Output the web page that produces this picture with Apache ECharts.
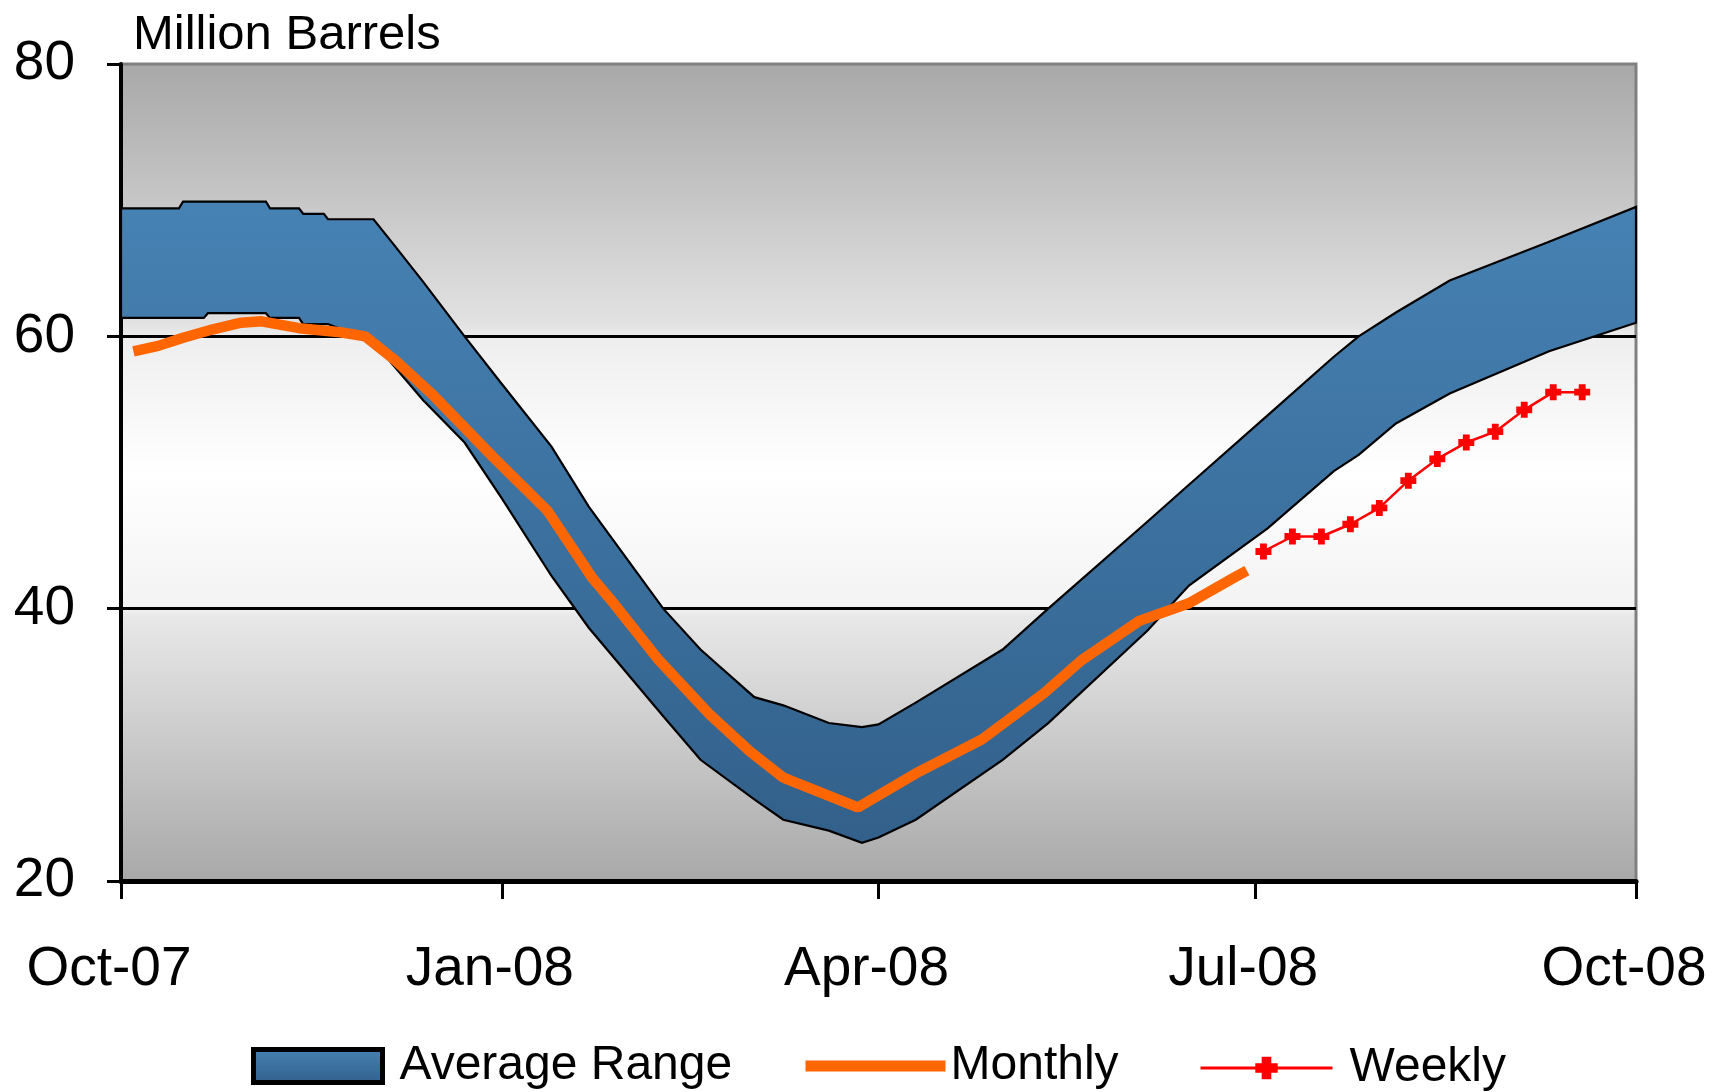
<!DOCTYPE html>
<html>
<head>
<meta charset="utf-8">
<script src="https://cdn.jsdelivr.net/npm/echarts@6/dist/echarts.min.js"></script>
<style>
html,body{margin:0;padding:0;background:#fff;}
#main{width:1725px;height:1092px;}
</style>
</head>
<body>
<div id="main"></div>
<script>
// ---- data ----
const bandDates = ['2007-10-01','2007-10-15','2007-10-16','2007-10-21','2007-10-22','2007-11-05','2007-11-06','2007-11-13','2007-11-14','2007-11-19','2007-11-20','2007-12-01','2007-12-06','2007-12-13','2007-12-23','2008-01-01','2008-01-13','2008-01-22','2008-02-09','2008-02-18','2008-03-02','2008-03-09','2008-03-20','2008-03-28','2008-04-01','2008-04-10','2008-05-01','2008-05-12','2008-06-05','2008-06-15','2008-07-04','2008-07-20','2008-07-26','2008-08-04','2008-08-17','2008-09-10','2008-10-01'];
const bandUpper = [69.4,69.4,69.9,69.9,69.9,69.9,69.4,69.4,69.0,69.0,68.6,68.6,66.7,64.0,60.0,56.5,51.9,47.5,40.0,37.0,33.5,32.9,31.6,31.3,31.5,33.1,37.0,40.0,46.4,49.1,54.2,58.5,60.0,61.75,64.1,66.95,69.5];
const bandLower = [61.35,61.35,61.35,61.35,61.7,61.7,61.35,61.35,60.9,60.9,60.9,59.6,57.8,55.3,52.2,48.1,42.4,38.6,32.1,28.9,26.0,24.5,23.7,22.8,23.2,24.5,28.9,31.6,38.4,41.7,45.9,50.1,51.3,53.6,55.8,58.9,61.0];

const monthlyDates = ['2007-10-04','2007-10-10','2007-10-16','2007-10-23','2007-10-30','2007-11-04','2007-11-13','2007-11-23','2007-11-29','2007-12-06','2007-12-15','2007-12-30','2008-01-12','2008-01-23','2008-01-28','2008-02-08','2008-02-20','2008-03-01','2008-03-09','2008-03-27','2008-04-10','2008-04-26','2008-05-11','2008-05-20','2008-06-03','2008-06-15','2008-06-26','2008-06-29'];
const monthlyValues = [58.9,59.3,59.9,60.5,61.0,61.1,60.6,60.3,60.0,58.3,55.8,51.1,47.2,42.2,40.4,36.2,32.3,29.5,27.6,25.4,27.9,30.4,33.8,36.2,39.1,40.4,42.3,42.8];

const weeklyDates = ['2008-07-03','2008-07-10','2008-07-17','2008-07-24','2008-07-31','2008-08-07','2008-08-14','2008-08-21','2008-08-28','2008-09-04','2008-09-11','2008-09-18'];
const weeklyValues = [44.2,45.3,45.3,46.2,47.4,49.4,51.0,52.2,53.0,54.6,55.9,55.9];

const xTickDates = ['2007-10-01','2008-01-01','2008-04-01','2008-07-01','2008-10-01'];
const xTickLabels = ['Oct-07','Jan-08','Apr-08','Jul-08','Oct-08'];
const yMin = 20, yMax = 80, yStep = 20;

const seriesNames = ['Average Range','Monthly','Weekly'];
const yTitle = 'Million Barrels';

// ---- helpers ----
function ts(s){ const p = s.split('-').map(Number); return Date.UTC(p[0], p[1]-1, p[2]); }
const xTickTs = xTickDates.map(ts);
const bandData = bandDates.map((d,i)=>[ts(d), bandLower[i], bandUpper[i]]);
const monthlyData = monthlyDates.map((d,i)=>[ts(d), monthlyValues[i]]);
const weeklyData = weeklyDates.map((d,i)=>[ts(d), weeklyValues[i]]);

const FONT = "'Liberation Sans', Arial, sans-serif";
const bandStops = [{offset:0,color:'#4682B4'},{offset:1,color:'#32608A'}];
const bandFill = {type:'linear',x:0,y:0,x2:0,y2:1,colorStops:bandStops};
const plusPath = 'path://M2,0H5V2H7V5H5V7H2V5H0V2H2Z';

function renderBand(params, api){
  if (params.dataIndex !== 0) return null;
  const n = bandData.length;
  const up = [], lo = [];
  for (let i = 0; i < n; i++){
    const x = api.value(0, i);
    up.push(api.coord([x, api.value(2, i)]));
    lo.push(api.coord([x, api.value(1, i)]));
  }
  const poly = up.concat(lo.slice().reverse());
  return {
    type:'group',
    children:[
      {type:'polygon', shape:{points:poly},
       style:{fill:new echarts.graphic.LinearGradient(0,0,0,1,bandStops), stroke:'#000', lineWidth:2.2}}
    ]
  };
}

const chart = echarts.init(document.getElementById('main'), null, {renderer:'canvas'});
chart.setOption({
  animation:false,
  backgroundColor:'#ffffff',
  title:{
    text: yTitle, left:128, top:6,
    textStyle:{fontFamily:FONT, fontSize:49, fontWeight:'normal', color:'#000'}
  },
  grid:{
    left:121, right:89, top:64, bottom:211,
    show:true,
    borderColor:'#808080', borderWidth:3,
    backgroundColor:{type:'linear',x:0,y:0,x2:0,y2:1,colorStops:[
      {offset:0,color:'#a8a8a8'},
      {offset:0.32,color:'#e2e2e2'},
      {offset:0.335,color:'#eeeeee'},
      {offset:0.5,color:'#ffffff'},
      {offset:0.665,color:'#f3f3f3'},
      {offset:0.675,color:'#e8e8e8'},
      {offset:1,color:'#a8a8a8'}
    ]}
  },
  xAxis:{
    type:'value',
    min: xTickTs[0], max: xTickTs[xTickTs.length-1],
    axisLine:{show:true, lineStyle:{color:'#000', width:5}},
    axisTick:{show:true, customValues: xTickTs, length:18, lineStyle:{color:'#000', width:3}},
    axisLabel:{
      customValues: xTickTs,
      margin:61,
      padding:[0,24,0,0],
      fontFamily:FONT, fontSize:55, color:'#000',
      formatter:function(v){ const i = xTickTs.indexOf(v); return i>=0 ? xTickLabels[i] : ''; }
    },
    splitLine:{show:false}
  },
  yAxis:{
    type:'value', min:yMin, max:yMax, interval:yStep,
    axisLine:{show:true, lineStyle:{color:'#000', width:4}},
    axisTick:{show:true, inside:false, length:14, lineStyle:{color:'#000', width:3}},
    axisLabel:{margin:46, fontFamily:FONT, fontSize:55, color:'#000'},
    splitLine:{show:true, showMinLine:false, showMaxLine:false, lineStyle:{color:'#000', width:3}}
  },
  legend:[
    {
      data:[{name:seriesNames[0], icon:'rect', itemStyle:{color:bandFill, borderColor:'#000', borderWidth:5}}],
      left:251, top:1042, padding:0, itemWidth:129, itemHeight:33,
      textStyle:{fontFamily:FONT, fontSize:48, color:'#000', padding:[0,0,0,12]}
    },
    {
      data:[seriesNames[1]],
      left:800, top:1042, padding:0, itemWidth:140, itemHeight:33,
      lineStyle:{width:11, color:'#FF6600'},
      itemStyle:{color:'rgba(0,0,0,0)', borderWidth:0, opacity:0},
      textStyle:{fontFamily:FONT, fontSize:48, color:'#000', padding:[0,0,0,0]}
    },
    {
      data:[seriesNames[2]],
      left:1199, top:1044, padding:0, itemWidth:132, itemHeight:28,
      lineStyle:{width:3, color:'#FF0000'},
      textStyle:{fontFamily:FONT, fontSize:48, color:'#000', padding:[0,0,0,12]}
    }
  ],
  series:[
    {
      name:seriesNames[0], type:'custom', data:bandData,
      encode:{x:0, y:[1,2]},
      renderItem:renderBand,
      itemStyle:{color:'#4682B4'}, z:2, silent:true
    },
    {
      name:seriesNames[1], type:'line', data:monthlyData,
      symbol:'none', lineStyle:{color:'#FF6600', width:10.5}, itemStyle:{color:'#FF6600'}, z:3
    },
    {
      name:seriesNames[2], type:'line', data:weeklyData,
      symbol:plusPath, symbolSize:16, showAllSymbol:true,
      lineStyle:{color:'#FF0000', width:2.5}, itemStyle:{color:'#FF0000'}, z:4
    }
  ]
});
</script>
</body>
</html>
